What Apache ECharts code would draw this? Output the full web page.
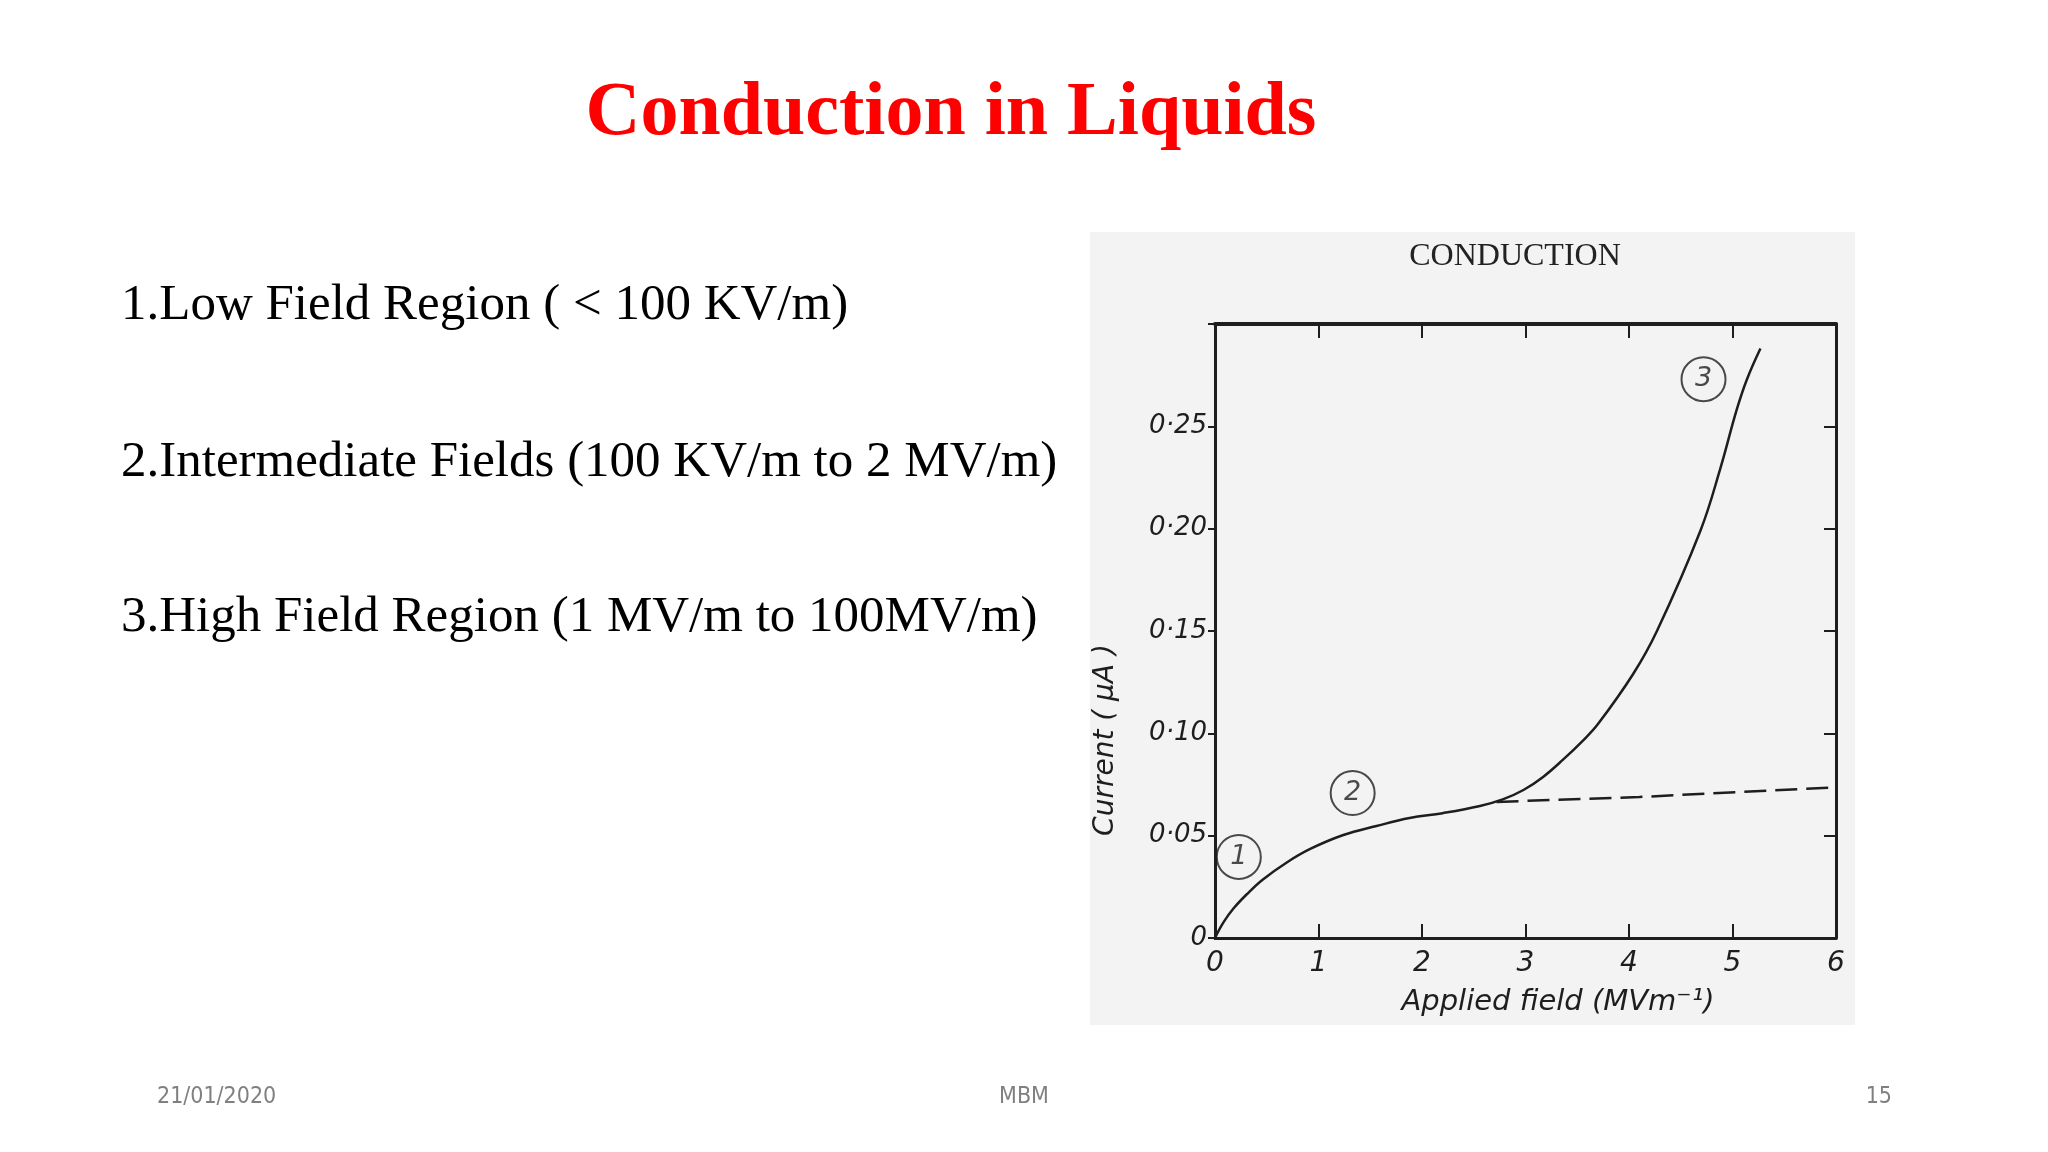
<!DOCTYPE html>
<html>
<head>
<meta charset="utf-8">
<script src="https://cdn.jsdelivr.net/npm/echarts@6/dist/echarts.min.js"></script>
<style>
  html, body { margin: 0; padding: 0; background: #ffffff; }
  #chart { width: 2048px; height: 1152px; }
</style>
</head>
<body>
<div id="chart"></div>
<script>
// main measured curve (applied field MV/m, current uA)
const fieldMain = [0, 0.08, 0.18, 0.31, 0.46, 0.69, 0.92, 1.24, 1.56, 1.88, 2.2, 2.56, 2.78, 2.98, 3.17, 3.36, 3.56, 3.7, 4.04, 4.27, 4.69, 4.88, 5.04, 5.14, 5.27];
const currentMain = [0, 0.0075, 0.0145, 0.0215, 0.0285, 0.0368, 0.0435, 0.0503, 0.0547, 0.0586, 0.061, 0.0645, 0.0677, 0.0723, 0.0787, 0.087, 0.0967, 0.1045, 0.129, 0.15, 0.199, 0.229, 0.258, 0.273, 0.288];
// dashed extrapolation of region 2
const fieldDashed = [2.72, 4.1, 5.65, 6];
const currentDashed = [0.0665, 0.0689, 0.0728, 0.0736];
// circled region markers
const regionLabels = ['1', '2', '3'];
const regionField = [0.23, 1.33, 4.72];
const regionCurrent = [0.0396, 0.0708, 0.273];
// tick labels
const xTickLabels = ['0', '1', '2', '3', '4', '5', '6'];
const yTickLabels = ['0', '0·05', '0·10', '0·15', '0·20', '0·25', ''];

const bullets = [
  '1.Low Field Region ( < 100 KV/m)',
  '2.Intermediate Fields (100 KV/m to 2 MV/m)',
  '3.High Field Region (1 MV/m to 100MV/m)'
];

const ink = '#1e1e1e';
const handFont = 'DejaVu Sans';
const footFont = 'Liberation Sans Narrow, DejaVu Sans Condensed, Open Sans';

const chart = echarts.init(document.getElementById('chart'));

const pair = (xs, ys) => xs.map((x, i) => [x, ys[i]]);

const option = {
  backgroundColor: '#ffffff',
  animation: false,
  graphic: [
    { type: 'rect', z: -10, shape: { x: 1090, y: 232, width: 765, height: 793 }, style: { fill: '#f3f3f3' } },
    { type: 'text', x: 951, y: 114, style: { text: 'Conduction in Liquids', fontFamily: 'Liberation Serif', fontWeight: 'bold', fontSize: 76, fill: '#ff0000', align: 'center', verticalAlign: 'middle' } },
    { type: 'text', x: 121, y: 306, style: { text: bullets[0], fontFamily: 'Liberation Serif', fontSize: 51, fill: '#000', align: 'left', verticalAlign: 'middle' } },
    { type: 'text', x: 121, y: 463, style: { text: bullets[1], fontFamily: 'Liberation Serif', fontSize: 51, fill: '#000', align: 'left', verticalAlign: 'middle' } },
    { type: 'text', x: 121, y: 618, style: { text: bullets[2], fontFamily: 'Liberation Serif', fontSize: 51, fill: '#000', align: 'left', verticalAlign: 'middle' } },
    { type: 'text', x: 1515, y: 257, style: { text: 'CONDUCTION', fontFamily: 'Liberation Serif', fontSize: 32, fill: '#222', align: 'center', verticalAlign: 'middle' } },
    { type: 'text', x: 1106, y: 740, rotation: Math.PI / 2, style: { text: 'Current ( μA )', fontFamily: handFont, fontStyle: 'italic', fontSize: 28, fill: ink, align: 'center', verticalAlign: 'middle' } },
    { type: 'text', x: 1558, y: 1002, style: { text: 'Applied field (MVm⁻¹)', fontFamily: handFont, fontStyle: 'italic', fontSize: 29, fill: ink, align: 'center', verticalAlign: 'middle' } },
    { type: 'text', x: 157, y: 1097, style: { text: '21/01/2020', fontFamily: footFont, fontSize: 23, fill: '#808080', align: 'left', verticalAlign: 'middle' } },
    { type: 'text', x: 1024, y: 1097, style: { text: 'MBM', fontFamily: footFont, fontSize: 23, fill: '#808080', align: 'center', verticalAlign: 'middle' } },
    { type: 'text', x: 1892, y: 1097, style: { text: '15', fontFamily: footFont, fontSize: 23, fill: '#808080', align: 'right', verticalAlign: 'middle' } }
  ],
  grid: { left: 1215, top: 324, right: 212, bottom: 214, containLabel: false },
  xAxis: [
    {
      type: 'value', position: 'bottom', min: 0, max: 6, interval: 1,
      axisLine: { onZero: false, lineStyle: { color: ink, width: 3 } },
      axisTick: { inside: true, length: 14, lineStyle: { color: ink, width: 2 } },
      axisLabel: { fontFamily: handFont, fontStyle: 'italic', fontSize: 28, color: ink, margin: 12,
        formatter: (v) => xTickLabels[Math.round(v)] },
      splitLine: { show: false }
    },
    {
      type: 'value', position: 'top', min: 0, max: 6, interval: 1,
      axisLine: { onZero: false, lineStyle: { color: ink, width: 4 } },
      axisTick: { inside: true, length: 14, lineStyle: { color: ink, width: 2 } },
      axisLabel: { show: false },
      splitLine: { show: false }
    }
  ],
  yAxis: [
    {
      type: 'value', position: 'left', min: 0, max: 0.3, interval: 0.05,
      axisLine: { onZero: false, lineStyle: { color: ink, width: 3 } },
      axisTick: { inside: false, length: 7, lineStyle: { color: ink, width: 2 } },
      axisLabel: { fontFamily: handFont, fontStyle: 'italic', fontSize: 26, color: ink, margin: 8,
        formatter: (v) => yTickLabels[Math.round(v / 0.05)] },
      splitLine: { show: false }
    },
    {
      type: 'value', position: 'right', min: 0, max: 0.3, interval: 0.05,
      axisLine: { onZero: false, lineStyle: { color: ink, width: 3 } },
      axisTick: { inside: true, length: 12, lineStyle: { color: ink, width: 2 } },
      axisLabel: { show: false },
      splitLine: { show: false }
    }
  ],
  series: [
    {
      type: 'line', xAxisIndex: 0, yAxisIndex: 0, smooth: 0.4, showSymbol: false,
      lineStyle: { color: ink, width: 2.5 },
      data: pair(fieldMain, currentMain)
    },
    {
      type: 'line', xAxisIndex: 0, yAxisIndex: 0, showSymbol: false,
      lineStyle: { color: ink, width: 2.5, type: [22, 9] },
      data: pair(fieldDashed, currentDashed)
    },
    {
      type: 'scatter', xAxisIndex: 0, yAxisIndex: 0, symbol: 'circle', symbolSize: 44,
      itemStyle: { color: 'rgba(0,0,0,0)', borderColor: ink, borderWidth: 2 },
      label: { show: true, position: 'inside', fontFamily: handFont, fontStyle: 'italic', fontSize: 27, color: ink,
        formatter: (p) => regionLabels[p.dataIndex] },
      data: pair(regionField, regionCurrent)
    }
  ]
};

chart.setOption(option);
</script>
</body>
</html>
